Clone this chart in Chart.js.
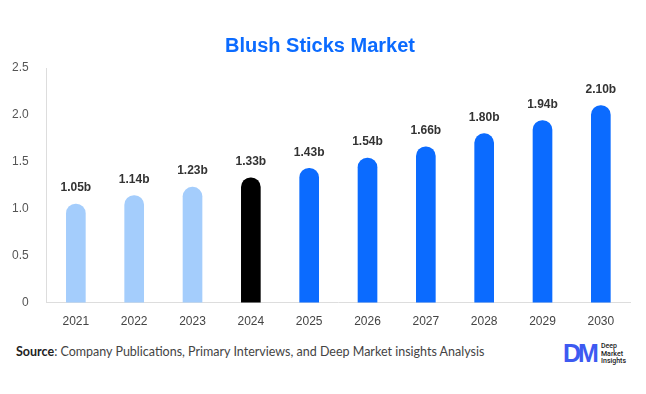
<!DOCTYPE html>
<html>
<head>
<meta charset="utf-8">
<script src="https://cdn.jsdelivr.net/npm/chart.js@4.4.0/dist/chart.umd.min.js"></script>
<style>
  html, body { margin: 0; padding: 0; background: #fff; }
  #wrap { position: relative; width: 646px; height: 394px; overflow: hidden; }
  #title {
    position: absolute; left: 0; top: 33px; width: 640px; text-align: center;
    font-family: "Liberation Sans", Arial, sans-serif; font-weight: bold; font-size: 20px;
    color: #0b6bff; line-height: 24px;
  }
  #chart-box { position: absolute; left: 0; top: 0; width: 646px; height: 339px; }
  #source {
    position: absolute; left: 16px; top: 344px;
    font-family: "Lato", sans-serif; font-size: 12.5px; color: #444;
  }
  #source b { font-weight: 700; color: #222; }
  #logo { position: absolute; left: 563px; top: 340px; width: 74px; height: 26px; }
  #logo .dm {
    position: absolute; left: 0; top: 0;
    font-family: "Liberation Sans", sans-serif; font-weight: bold; font-size: 25px;
    color: #3d5af1; letter-spacing: -3px; line-height: 26px;
  }
  #logo .txt {
    position: absolute; left: 38px; top: 3px;
    font-family: "Roboto", sans-serif; font-size: 7px; line-height: 7.5px; color: #222; font-weight: 500;
  }
</style>
</head>
<body>
<div id="wrap">
  <div id="chart-box"><canvas id="chart"></canvas></div>
  <div id="title">Blush Sticks Market</div>
  <div id="source"><b>Source</b>: Company Publications, Primary Interviews, and Deep Market insights Analysis</div>
  <div id="logo"><span class="dm">DM</span><span class="txt">Deep<br>Market<br>Insights</span></div>
</div>
<script>
// Daten
const years = ['2021', '2022', '2023', '2024', '2025', '2026', '2027', '2028', '2029', '2030'];
const marketValues = [1.05, 1.14, 1.23, 1.33, 1.43, 1.54, 1.66, 1.80, 1.94, 2.10];
const barColors = ['#a4cdfc', '#a4cdfc', '#a4cdfc', '#000000', '#0b6bff', '#0b6bff', '#0b6bff', '#0b6bff', '#0b6bff', '#0b6bff'];
const yTicks = [0, 0.5, 1.0, 1.5, 2.0, 2.5];

// Werte über den Balken
const valueLabelPlugin = {
    id: 'valueLabels',
    afterDatasetsDraw(chart) {
        const ctx = chart.ctx;
        const meta = chart.getDatasetMeta(0);
        ctx.save();
        ctx.font = 'bold 12px "Liberation Sans", Arial, sans-serif';
        ctx.fillStyle = '#333';
        ctx.textAlign = 'center';
        ctx.textBaseline = 'bottom';
        meta.data.forEach((bar, i) => {
            ctx.fillText(marketValues[i].toFixed(2) + 'b', bar.x, bar.y - 10);
        });
        ctx.restore();
    }
};

new Chart(document.getElementById('chart'), {
    type: 'bar',
    data: {
        labels: years,
        datasets: [{
            data: marketValues,
            backgroundColor: barColors,
            barThickness: 19,
            borderRadius: 10,
            borderSkipped: 'bottom'
        }]
    },
    options: {
        responsive: true,
        maintainAspectRatio: false,
        animation: false,
        layout: { padding: { top: 68, right: 16, left: 2, bottom: 6 } },
        plugins: {
            legend: { display: false },
            tooltip: { enabled: false },
            title: { display: false }
        },
        scales: {
            x: {
                grid: { display: false },
                border: { display: true, color: '#dddddd' },
                ticks: { color: '#444', font: { family: '"Liberation Sans", Arial, sans-serif', size: 12 }, padding: 4 }
            },
            y: {
                min: 0,
                max: 2.5,
                afterBuildTicks: axis => { axis.ticks = yTicks.map(v => ({ value: v })); },
                grid: { display: false },
                border: { display: true, color: '#dddddd' },
                ticks: {
                    color: '#555',
                    font: { family: '"Liberation Sans", Arial, sans-serif', size: 12 },
                    padding: 10,
                    callback: v => v === 0 ? '0' : Number(v).toFixed(1)
                }
            }
        }
    },
    plugins: [valueLabelPlugin]
});
</script>
</body>
</html>
